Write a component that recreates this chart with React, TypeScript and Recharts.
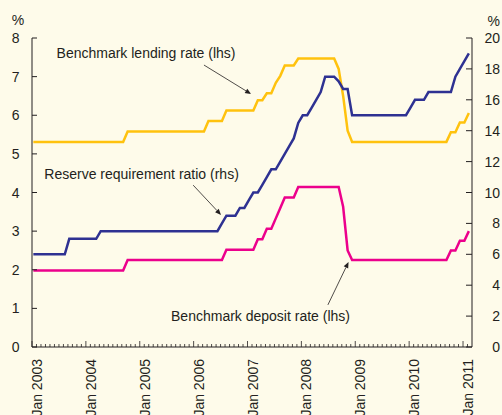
import { LineChart, Line, XAxis, YAxis, ReferenceLine, ReferenceDot } from "recharts";

const yearLabels = [
  "Jan 2003", "Jan 2004", "Jan 2005", "Jan 2006", "Jan 2007",
  "Jan 2008", "Jan 2009", "Jan 2010", "Jan 2011",
];
const leftTicks = [0, 1, 2, 3, 4, 5, 6, 7, 8];
const rightTicks = [0, 2, 4, 6, 8, 10, 12, 14, 16, 18, 20];

// monthly, Jan 2003 .. Feb 2011 (% )
const lendingRate = [
  5.31, 5.31, 5.31, 5.31, 5.31, 5.31, 5.31, 5.31, 5.31, 5.31, 5.31, 5.31,
  5.31, 5.31, 5.31, 5.31, 5.31, 5.31, 5.31, 5.31, 5.31, 5.58, 5.58, 5.58,
  5.58, 5.58, 5.58, 5.58, 5.58, 5.58, 5.58, 5.58, 5.58, 5.58, 5.58, 5.58,
  5.58, 5.58, 5.58, 5.85, 5.85, 5.85, 5.85, 6.12, 6.12, 6.12, 6.12, 6.12,
  6.12, 6.12, 6.39, 6.39, 6.57, 6.57, 6.84, 7.02, 7.29, 7.29, 7.29, 7.47,
  7.47, 7.47, 7.47, 7.47, 7.47, 7.47, 7.47, 7.47, 7.2, 6.5, 5.6, 5.31,
  5.31, 5.31, 5.31, 5.31, 5.31, 5.31, 5.31, 5.31, 5.31, 5.31, 5.31, 5.31,
  5.31, 5.31, 5.31, 5.31, 5.31, 5.31, 5.31, 5.31, 5.31, 5.56, 5.56, 5.81,
  5.81, 6.06,
];

const depositRate = [
  1.98, 1.98, 1.98, 1.98, 1.98, 1.98, 1.98, 1.98, 1.98, 1.98, 1.98, 1.98,
  1.98, 1.98, 1.98, 1.98, 1.98, 1.98, 1.98, 1.98, 1.98, 2.25, 2.25, 2.25,
  2.25, 2.25, 2.25, 2.25, 2.25, 2.25, 2.25, 2.25, 2.25, 2.25, 2.25, 2.25,
  2.25, 2.25, 2.25, 2.25, 2.25, 2.25, 2.25, 2.52, 2.52, 2.52, 2.52, 2.52,
  2.52, 2.52, 2.79, 2.79, 3.06, 3.06, 3.33, 3.6, 3.87, 3.87, 3.87, 4.14,
  4.14, 4.14, 4.14, 4.14, 4.14, 4.14, 4.14, 4.14, 4.14, 3.63, 2.5, 2.25,
  2.25, 2.25, 2.25, 2.25, 2.25, 2.25, 2.25, 2.25, 2.25, 2.25, 2.25, 2.25,
  2.25, 2.25, 2.25, 2.25, 2.25, 2.25, 2.25, 2.25, 2.25, 2.5, 2.5, 2.75,
  2.75, 3.0,
];

const reserveRatio = [
  6.0, 6.0, 6.0, 6.0, 6.0, 6.0, 6.0, 6.0, 7.0, 7.0, 7.0, 7.0,
  7.0, 7.0, 7.0, 7.5, 7.5, 7.5, 7.5, 7.5, 7.5, 7.5, 7.5, 7.5,
  7.5, 7.5, 7.5, 7.5, 7.5, 7.5, 7.5, 7.5, 7.5, 7.5, 7.5, 7.5,
  7.5, 7.5, 7.5, 7.5, 7.5, 7.5, 8.0, 8.5, 8.5, 8.5, 9.0, 9.0,
  9.5, 10.0, 10.0, 10.5, 11.0, 11.5, 11.5, 12.0, 12.5, 13.0, 13.5, 14.5,
  15.0, 15.0, 15.5, 16.0, 16.5, 17.5, 17.5, 17.5, 17.2, 16.7, 16.7, 15.0,
  15.0, 15.0, 15.0, 15.0, 15.0, 15.0, 15.0, 15.0, 15.0, 15.0, 15.0, 15.0,
  15.5, 16.0, 16.0, 16.0, 16.5, 16.5, 16.5, 16.5, 16.5, 16.5, 17.5, 18.0,
  18.5, 19.0,
];

const INK = "#231f20";
const FONT = "'Liberation Sans', Arial, Helvetica, sans-serif";
const BG = "#fefbea";

// month index on x; points sit a little into each month
const data = lendingRate.map((v, i) => ({
  t: i + 0.3,
  lending: v,
  deposit: depositRate[i],
  rrr: reserveRatio[i],
}));
const monthTicks = Array.from({ length: 98 }, (_, i) => i);

// annotation anchors, in lhs data units
const notes = [
  { text: "Benchmark lending rate (lhs)", tx: 25.4, ty: 7.61, from: [38.3, 7.3], to: [48.8, 6.55] },
  { text: "Reserve requirement ratio (rhs)", tx: 24.4, ty: 4.48, from: [35.9, 4.19], to: [42.1, 3.42] },
  { text: "Benchmark deposit rate (lhs)", tx: 50.9, ty: 0.8, from: [65.9, 1.09], to: [70.5, 2.2] },
];

const textStyle = { fontFamily: FONT, fontSize: 14, fill: INK };

function MonthTick({ x, y, payload }: any) {
  const m = payload.value;
  const major = m % 12 === 0;
  return (
    <g>
      <line x1={x} x2={x} y1={y} y2={y - (major ? 6 : 3)} stroke={INK} strokeWidth={0.8} />
      {major && (
        <text
          x={x + 5}
          y={y + 12}
          transform={`rotate(-90, ${x + 5}, ${y + 12})`}
          textAnchor="end"
          dominantBaseline="central"
          style={textStyle}
        >
          {yearLabels[m / 12]}
        </text>
      )}
    </g>
  );
}

function LeftTick({ x, y, payload }: any) {
  return (
    <g>
      <line x1={x} x2={x + 5} y1={y} y2={y} stroke={INK} strokeWidth={1} />
      <text x={x - 12.5} y={y} textAnchor="end" dominantBaseline="central" style={textStyle}>
        {payload.value}
      </text>
    </g>
  );
}

function RightTick({ x, y, payload }: any) {
  return (
    <g>
      <line x1={x} x2={x - 6} y1={y} y2={y} stroke={INK} strokeWidth={1} />
      <text x={x + 28} y={y} textAnchor="end" dominantBaseline="central" style={textStyle}>
        {payload.value}
      </text>
    </g>
  );
}

function Arrow({ x1, y1, x2, y2 }: any) {
  const a = Math.atan2(y2 - y1, x2 - x1);
  const len = 6;
  const w = 2.5;
  const bx = x2 - len * Math.cos(a);
  const by = y2 - len * Math.sin(a);
  const pts = [
    `${x2},${y2}`,
    `${bx + w * Math.sin(a)},${by - w * Math.cos(a)}`,
    `${bx - w * Math.sin(a)},${by + w * Math.cos(a)}`,
  ].join(" ");
  return (
    <g>
      <line x1={x1} y1={y1} x2={bx} y2={by} stroke={INK} strokeWidth={0.8} />
      <polygon points={pts} fill={INK} />
    </g>
  );
}

export default function App() {
  return (
    <div style={{ position: "absolute", left: 0, top: 0, width: 502, height: 415, background: BG }}>
      <LineChart width={502} height={415} data={data} margin={{ top: 38, right: 0, bottom: 0, left: 0 }}>
        <XAxis
          dataKey="t"
          type="number"
          domain={[0, 98]}
          ticks={monthTicks}
          interval={0}
          height={68}
          tickSize={0}
          tickMargin={0}
          tickLine={false}
          axisLine={{ stroke: INK, strokeWidth: 1 }}
          tick={<MonthTick />}
        />
        <YAxis
          yAxisId="l"
          domain={[0, 8]}
          ticks={leftTicks}
          width={32}
          tickSize={0}
          tickMargin={0}
          tickLine={false}
          axisLine={{ stroke: INK, strokeWidth: 1 }}
          tick={<LeftTick />}
          label={({ viewBox }: any) => (
            <text x={viewBox.x + 18} y={viewBox.y - 18} textAnchor="middle" dominantBaseline="central" style={textStyle}>
              %
            </text>
          )}
        />
        <YAxis
          yAxisId="r"
          orientation="right"
          domain={[0, 20]}
          ticks={rightTicks}
          width={30}
          tickSize={0}
          tickMargin={0}
          tickLine={false}
          axisLine={{ stroke: INK, strokeWidth: 1 }}
          tick={<RightTick />}
          label={({ viewBox }: any) => (
            <text x={viewBox.x + 28} y={viewBox.y - 17} textAnchor="end" dominantBaseline="central" style={textStyle}>
              %
            </text>
          )}
        />
        <Line yAxisId="l" type="linear" dataKey="lending" stroke="#ffc20e" strokeWidth={2.5} dot={false} isAnimationActive={false} />
        <Line yAxisId="r" type="linear" dataKey="rrr" stroke="#2e3192" strokeWidth={2.5} dot={false} isAnimationActive={false} />
        <Line yAxisId="l" type="linear" dataKey="deposit" stroke="#ec008c" strokeWidth={2.5} dot={false} isAnimationActive={false} />
        {notes.map((n) => (
          <ReferenceLine
            key={n.text + "-arrow"}
            yAxisId="l"
            segment={[{ x: n.from[0], y: n.from[1] }, { x: n.to[0], y: n.to[1] }]}
            shape={(p: any) => <Arrow {...p} />}
          />
        ))}
        {notes.map((n) => (
          <ReferenceDot
            key={n.text}
            yAxisId="l"
            x={n.tx}
            y={n.ty}
            r={0}
            shape={(p: any) => (
              <text x={p.cx} y={p.cy} textAnchor="middle" dominantBaseline="central" style={textStyle}>
                {n.text}
              </text>
            )}
          />
        ))}
      </LineChart>
    </div>
  );
}
